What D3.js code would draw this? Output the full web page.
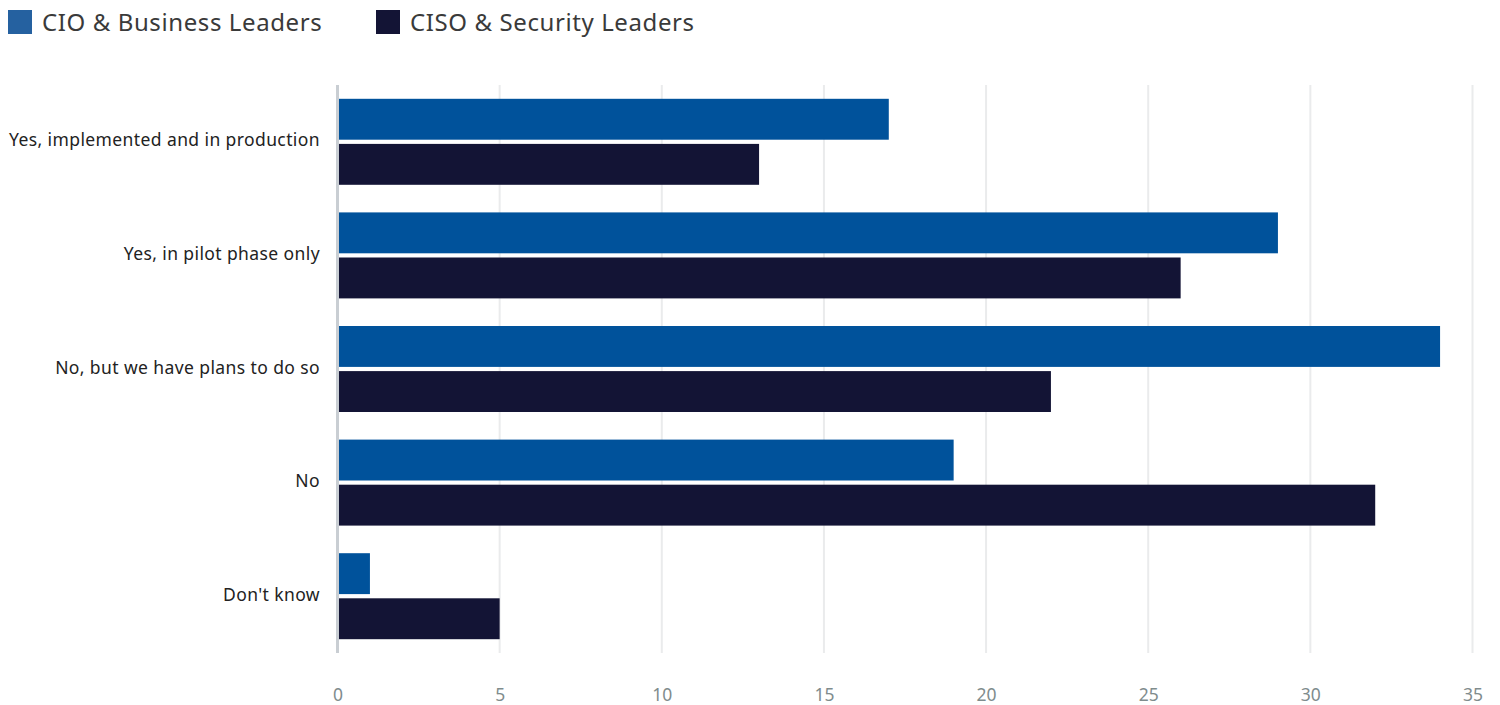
<!DOCTYPE html>
<html>
<head>
<meta charset="utf-8">
<script src="https://cdn.jsdelivr.net/npm/d3@7"></script>
<style>
  html, body { margin: 0; padding: 0; background: #fff; }
  svg { display: block; font-family: "Noto Sans", sans-serif; }
</style>
</head>
<body>
<svg id="chart" width="1500" height="705"></svg>
<script>
// Survey answers, one row per answer
const categories = [
  "Yes, implemented and in production",
  "Yes, in pilot phase only",
  "No, but we have plans to do so",
  "No",
  "Don't know"
];
const seriesNames = ["CIO & Business Leaders", "CISO & Security Leaders"];
const cioValues = [17, 29, 34, 19, 1];
const cisoValues = [13, 26, 22, 32, 5];
const xTicks = [0, 5, 10, 15, 20, 25, 30, 35];

const barColors = ["#00529b", "#131435"];
const legendColors = ["#2561a0", "#131435"];
const fontFamily = "'Noto Sans', sans-serif";

const rows = categories.map((c, i) => ({
  category: c,
  values: [
    { series: seriesNames[0], value: cioValues[i] },
    { series: seriesNames[1], value: cisoValues[i] }
  ]
}));

const svg = d3.select("#chart");
const plot = { left: 337.5, right: 1472.5, top: 85, bottom: 653 };

const x = d3.scaleLinear().domain([0, 35]).range([plot.left, plot.right]);
const y = d3.scaleBand().domain(categories).range([plot.top, plot.bottom])
  .paddingInner(0.243).paddingOuter(0.1215);
const ySub = d3.scaleBand().domain(seriesNames).range([0, y.bandwidth()]).paddingInner(0.093);
const color = d3.scaleOrdinal().domain(seriesNames).range(barColors);

// vertical gridlines
svg.append("g").selectAll("line").data(xTicks.filter(t => t > 0)).join("line")
  .attr("x1", d => x(d)).attr("x2", d => x(d))
  .attr("y1", plot.top).attr("y2", plot.bottom)
  .attr("stroke", "#eaebec").attr("stroke-width", 2);

// bars
svg.append("g").selectAll("g").data(rows).join("g")
  .attr("transform", d => `translate(0,${y(d.category)})`)
  .selectAll("rect").data(d => d.values).join("rect")
  .attr("x", x(0))
  .attr("y", d => ySub(d.series))
  .attr("width", d => x(d.value) - x(0))
  .attr("height", ySub.bandwidth())
  .attr("fill", d => color(d.series));

// baseline
svg.append("line")
  .attr("x1", x(0)).attr("x2", x(0))
  .attr("y1", plot.top).attr("y2", plot.bottom)
  .attr("stroke", "#c9ced3").attr("stroke-width", 3);

// x axis labels
const xAxis = d3.axisBottom(x).tickValues(xTicks).tickSize(0).tickPadding(0);
const gx = svg.append("g").attr("transform", "translate(0,689)").call(xAxis);
gx.select(".domain").remove();
gx.selectAll("text")
  .attr("dy", "0.71em")
  .attr("font-size", 17.5).attr("fill", "#7f8c8d")
  .attr("font-family", fontFamily);

// category labels
const yAxis = d3.axisLeft(y).tickSize(0).tickPadding(0);
const gy = svg.append("g").attr("transform", "translate(320,-1)").call(yAxis);
gy.select(".domain").remove();
gy.selectAll("text")
  .attr("font-size", 17.5).attr("fill", "#222")
  .attr("letter-spacing", 0.4)
  .attr("font-family", fontFamily);

// legend
const legend = svg.append("g").selectAll("g").data(seriesNames).join("g")
  .attr("transform", (d, i) => `translate(${i === 0 ? 8 : 376},10)`);
legend.append("rect").attr("width", 24).attr("height", 24)
  .attr("fill", (d, i) => legendColors[i]);
legend.append("text").attr("x", 34).attr("y", 21)
  .attr("font-size", 24).attr("fill", "#3a3a3a")
  .attr("letter-spacing", 0.6)
  .attr("font-family", fontFamily)
  .text(d => d);
</script>
</body>
</html>
